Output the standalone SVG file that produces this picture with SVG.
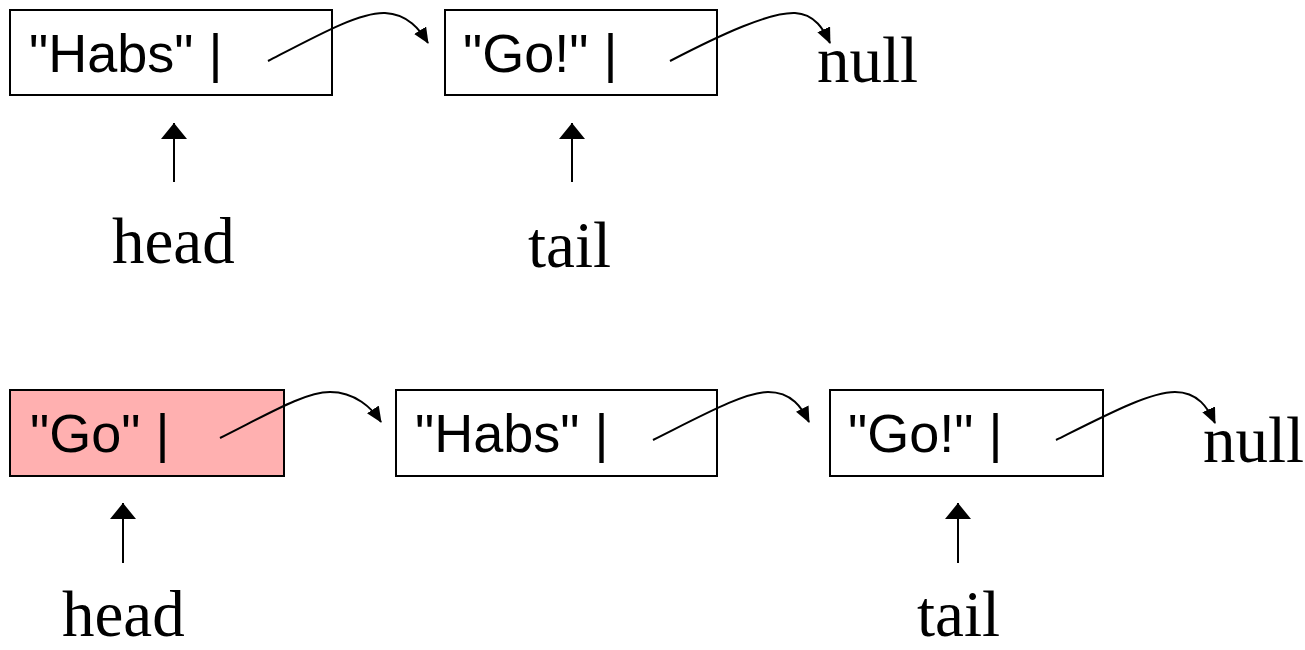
<svg xmlns="http://www.w3.org/2000/svg" width="1305" height="650" viewBox="0 0 1305 650">
<style>
.box{fill:#fff;stroke:#000;stroke-width:2}
.pink{fill:#FFB0B0}
.val{font-family:"Liberation Sans",Arial,sans-serif;font-size:54px;fill:#000}
.lbl{font-family:"Liberation Serif","Times New Roman",serif;font-size:65px;fill:#000}
.link{fill:none;stroke:#000;stroke-width:2;marker-end:url(#ah)}
.ptr{fill:none;stroke:#000;stroke-width:2;marker-end:url(#up)}
</style>
<defs>
<marker id="ah" markerUnits="userSpaceOnUse" markerWidth="18" markerHeight="16" refX="15" refY="7" orient="auto">
<path d="M0,0 L16,7 L0,14 z" fill="#000"/>
</marker>
<marker id="up" markerUnits="userSpaceOnUse" markerWidth="20" markerHeight="30" refX="16" refY="13" orient="auto">
<path d="M0,0 L16,13 L0,26 z" fill="#000"/>
</marker>
</defs>
<g id="n1"><rect class="box" x="10" y="10" width="322" height="85"/><text class="val" x="29" y="72">"Habs" |</text></g>
<g id="n2"><rect class="box" x="445" y="10" width="272" height="85"/><text class="val" x="463" y="72">"Go!" |</text></g>
<g id="null1"><text class="lbl" x="817" y="82">null</text></g>
<g id="head1"><text class="lbl" x="112" y="263">head</text></g>
<g id="tail1"><text class="lbl" x="528" y="267">tail</text></g>
<g id="m1"><rect class="box pink" x="10" y="390" width="274" height="86"/><text class="val" x="30" y="452">"Go" |</text></g>
<g id="m2"><rect class="box" x="396" y="390" width="321" height="86"/><text class="val" x="415" y="452">"Habs" |</text></g>
<g id="m3"><rect class="box" x="830" y="390" width="273" height="86"/><text class="val" x="848" y="452">"Go!" |</text></g>
<g id="null2"><text class="lbl" x="1203" y="462">null</text></g>
<g id="head2"><text class="lbl" x="62" y="636">head</text></g>
<g id="tail2"><text class="lbl" x="917" y="636">tail</text></g>
<g id="connectors">
<path class="link" d="M268,61 C320,34 360,12 385,13 C408,14 420,30 428,43"/>
<path class="link" d="M670,61 C722,34 770,12 795,13 C815,14 824,30 830,43"/>
<path class="ptr" d="M174,182 L174,123"/>
<path class="ptr" d="M572,182 L572,123"/>
<path class="link" d="M220,438 C270,413 305,392 330,392 C355,392 372,408 381,422"/>
<path class="link" d="M653,440 C705,414 745,392 768,392 C792,392 802,408 809,422"/>
<path class="link" d="M1056,440 C1108,414 1150,392 1175,392 C1198,392 1208,408 1215,423"/>
<path class="ptr" d="M123,563 L123,503"/>
<path class="ptr" d="M958,563 L958,503"/>
</g>
</svg>
